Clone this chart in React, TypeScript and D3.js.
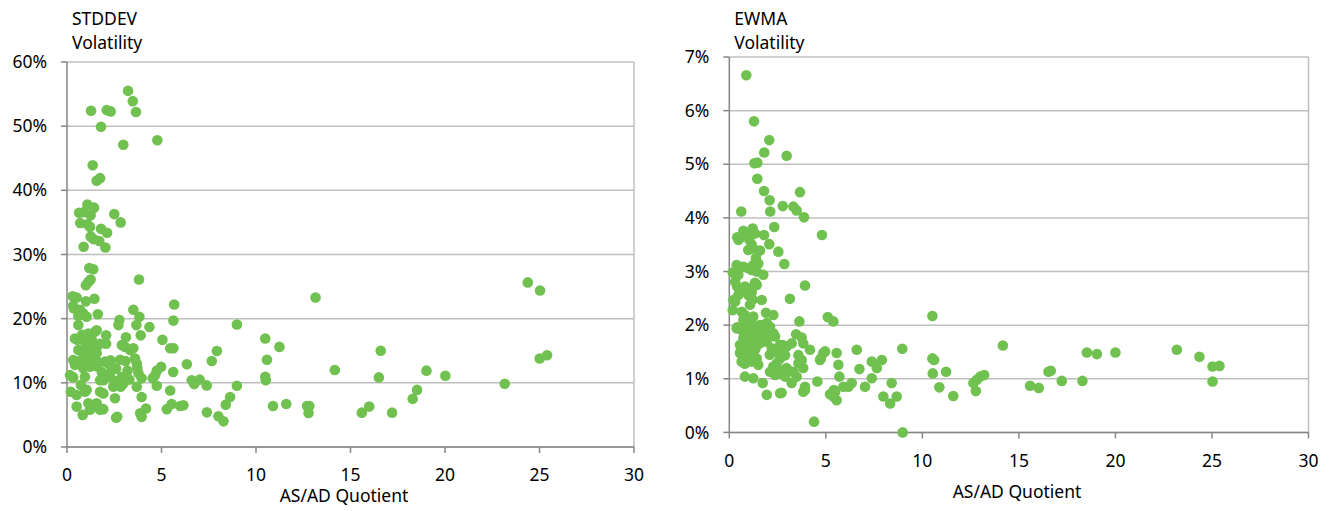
import React from "react";
import * as d3 from "d3";

// ---------- DATA ----------
const xTicks = [0, 5, 10, 15, 20, 25, 30];
const stdYTicks = [0, 10, 20, 30, 40, 50, 60];
const ewmaYTicks = [0, 1, 2, 3, 4, 5, 6, 7];

// STDDEV volatility (%), vs AS/AD quotient
const stdX = [
  3.23, 3.48, 3.65, 1.27, 2.10, 2.31, 1.80, 2.98, 4.78, 1.36, 1.57, 1.75,
  0.64, 0.90, 1.08, 1.43, 1.25, 0.70, 1.08, 1.22, 1.80, 2.12, 2.50, 2.84, 1.25, 1.40, 1.71, 0.88, 2.03,
  1.18, 1.39, 1.25, 1.13, 1.00, 3.81, 0.30, 0.51, 1.00, 1.45, 0.33, 0.37, 0.69, 0.86, 1.04, 0.60, 1.63, 3.51, 3.83, 5.67, 5.63, 8.99, 2.77, 2.72, 3.67, 4.36, 0.60,
  13.15, 10.49, 11.24, 10.58, 10.49, 10.52, 10.90, 11.60, 12.70, 12.82, 12.78,
  7.93, 7.66, 6.34, 6.60, 6.73, 7.02, 7.39, 8.99, 8.63, 8.40, 8.01, 8.28, 7.40,
  5.05, 5.46, 5.63, 5.62, 4.98, 4.75, 4.66, 4.75, 4.53, 5.46, 5.28, 5.54, 5.99, 6.16,
  3.12, 3.51, 3.34, 3.07, 2.90, 3.90, 3.60, 3.69, 3.72, 3.78, 3.95, 3.69, 3.95, 4.18, 3.87, 3.95, 2.60, 2.66, 2.54, 2.81, 2.90, 2.84, 2.98, 2.45, 2.28, 2.10, 1.92, 1.75, 2.01, 2.19, 2.37, 1.84, 1.75, 1.92, 1.57, 1.75, 1.92, 1.13, 1.22, 0.83, 0.51, 0.20, 0.51, 0.95, 0.16, 0.33, 0.73, 0.95, 0.33, 0.42, 0.60, 0.42, 0.55,
  0.95, 1.13, 1.48, 1.57, 0.95, 1.22, 1.40, 1.57, 1.75, 0.86, 1.13, 1.31, 1.48, 1.57, 1.04, 1.31, 1.57, 1.22, 0.69, 2.07, 2.07, 1.04,
  1.00, 1.20, 1.35, 0.80, 1.65, 0.85, 2.30, 2.60, 2.50, 3.30, 3.20, 3.10,
  24.38, 25.03, 16.60, 14.17, 16.50, 19.02, 20.02, 23.16, 25.01, 25.40, 18.52, 18.29, 15.99, 15.60, 17.20,
];
const stdY = [
  55.5, 53.9, 52.2, 52.4, 52.5, 52.3, 49.9, 47.1, 47.8, 43.9, 41.5, 41.9,
  36.5, 36.6, 37.8, 37.3, 36.1, 34.9, 34.7, 34.3, 34.0, 33.4, 36.3, 35.0, 32.8, 32.4, 32.1, 31.2, 31.1,
  27.9, 27.7, 26.1, 25.7, 25.2, 26.1, 23.5, 23.3, 22.7, 23.1, 22.0, 21.6, 21.4, 20.8, 20.3, 20.4, 20.7, 21.4, 20.3, 22.2, 19.7, 19.1, 19.8, 19.0, 19.0, 18.7, 19.0,
  23.3, 16.9, 15.6, 13.6, 10.95, 10.4, 6.4, 6.7, 6.4, 6.4, 5.3,
  14.95, 13.4, 12.9, 10.4, 9.8, 10.5, 9.6, 9.55, 7.8, 6.6, 4.8, 4.0, 5.4,
  16.7, 15.4, 15.4, 11.7, 12.5, 11.9, 11.2, 9.55, 10.7, 8.8, 5.9, 6.7, 6.4, 6.5,
  17.1, 15.4, 15.1, 15.6, 15.9, 17.4, 13.8, 13.0, 12.3, 11.5, 10.7, 9.4, 7.8, 6.0, 5.25, 4.7, 4.55, 4.7, 7.6, 13.6, 10.9, 9.4, 9.9, 9.4, 11.5, 10.95, 10.4, 10.4, 13.3, 13.0, 12.5, 11.7, 8.6, 8.35, 6.8, 5.8, 5.9, 6.8, 5.8, 5.0, 6.3, 8.6, 8.1, 8.6, 11.2, 10.85, 9.65, 10.95, 13.55, 12.8, 15.1, 16.9, 16.7,
  16.7, 17.7, 17.95, 18.2, 15.6, 15.6, 15.1, 15.6, 16.1, 14.6, 14.3, 14.1, 13.8, 14.6, 13.3, 13.0, 12.6, 12.5, 13.4, 17.4, 16.1, 8.9,
  16.2, 17.0, 16.5, 17.5, 13.2, 12.3, 13.5, 12.2, 10.3, 10.5, 11.9, 13.4,
  25.65, 24.4, 15.0, 12.0, 10.85, 11.9, 11.1, 9.85, 13.8, 14.3, 8.9, 7.5, 6.3, 5.35, 5.35,
];

// EWMA volatility (%), vs AS/AD quotient
const ewmaX = [
  0.88, 1.28, 2.07, 1.81, 2.97, 1.30, 1.45, 1.45, 1.80, 2.09, 3.66, 2.12, 2.77, 3.32, 3.49, 3.87, 0.62, 4.80, 2.33,
  0.41, 0.47, 0.73, 0.93, 1.21, 1.33, 1.04, 1.80, 2.07, 2.54, 0.98, 1.24, 1.59, 1.38, 1.16, 0.55,
  1.24, 1.50, 0.38, 0.73, 2.85, 0.98, 1.16, 1.33, 1.42, 0.18, 0.30, 0.47, 1.76,
  0.30, 0.41, 0.55, 0.81, 0.93, 1.07, 1.33, 1.42, 3.92, 0.47, 0.98, 1.16,
  0.21, 0.18, 1.21, 1.07, 1.68, 3.14, 0.30,
  0.64, 0.81, 0.98, 0.73, 1.90, 2.28, 2.11, 3.63, 5.10, 5.39, 10.52, 1.24, 1.94,
  0.41, 0.64, 0.90, 1.24, 1.33, 1.59, 1.85, 2.28, 1.94, 3.46, 3.75, 3.83,
  0.38, 0.73, 1.07, 1.59, 2.37, 1.76, 1.42, 1.07, 0.73, 0.55, 0.90, 1.24, 1.59, 1.94, 2.20, 2.63, 2.97, 3.23, 2.77,
  4.18, 3.58, 3.75, 3.58, 3.83, 3.32, 2.97, 2.89, 2.63, 2.46, 2.28, 2.11, 2.37, 2.63, 2.89, 3.23, 3.49,
  0.55, 0.64, 0.90, 1.24, 1.42, 1.50, 0.81, 1.24, 1.73, 1.94, 2.63, 2.71, 3.92, 3.92, 3.83,
  4.56, 4.70, 4.96, 4.87, 4.74, 5.56, 5.65, 5.70, 5.42, 5.22, 5.56, 5.91, 6.17, 6.34, 6.60, 6.74, 7.03, 7.38, 7.64, 7.90, 7.38, 8.41, 7.98, 8.33, 8.67, 8.96, 8.98, 4.39,
  5.31, 5.48, 5.39,
  0.60, 0.75, 1.00, 1.10, 0.80, 1.15, 1.35, 0.95, 1.15, 0.70, 1.30, 2.50, 2.10, 2.45, 3.05, 2.75,
  10.52, 10.61, 11.23, 10.54, 10.88, 11.60, 12.64, 12.82, 12.99, 13.20, 12.77,
  14.17, 18.52, 19.04, 20.00, 23.18, 24.35, 25.03, 25.39, 25.03, 16.53, 16.65, 17.22, 18.29, 15.58, 16.03,
];
const ewmaY = [
  6.66, 5.80, 5.45, 5.22, 5.16, 5.02, 5.03, 4.73, 4.50, 4.33, 4.48, 4.12, 4.22, 4.21, 4.14, 4.01, 4.12, 3.68, 3.83,
  3.64, 3.59, 3.76, 3.71, 3.80, 3.71, 3.59, 3.68, 3.51, 3.37, 3.40, 3.43, 3.39, 3.25, 3.50, 3.62,
  3.12, 3.15, 3.12, 3.09, 3.14, 3.06, 3.03, 3.08, 3.00, 2.98, 2.97, 2.94, 2.94,
  2.81, 2.72, 2.62, 2.72, 2.69, 2.66, 2.79, 2.75, 2.74, 2.56, 2.56, 2.62,
  2.47, 2.28, 2.48, 2.38, 2.47, 2.49, 2.44,
  2.25, 2.19, 2.13, 2.10, 2.23, 2.19, 1.97, 2.07, 2.15, 2.07, 2.17, 2.16, 2.04,
  1.96, 1.91, 1.96, 2.00, 1.91, 1.85, 1.79, 1.85, 1.88, 1.83, 1.77, 1.66,
  1.94, 2.00, 2.07, 2.00, 1.79, 1.82, 1.85, 1.82, 1.76, 1.63, 1.60, 1.63, 1.66, 1.69, 1.57, 1.63, 1.60, 1.66, 1.63,
  1.54, 1.44, 1.35, 1.29, 1.20, 1.13, 1.20, 1.44, 1.38, 1.29, 1.23, 1.13, 1.07, 1.10, 1.04, 0.92, 1.04,
  1.48, 1.32, 1.38, 1.51, 1.38, 1.26, 1.04, 1.01, 0.92, 0.70, 0.73, 0.74, 0.79, 0.85, 0.76,
  0.95, 1.35, 1.51, 1.48, 1.38, 1.48, 1.26, 1.04, 0.79, 0.71, 0.60, 0.85, 0.85, 0.92, 1.54, 1.18, 0.85, 1.32, 1.20, 1.35, 1.01, 0.92, 0.67, 0.54, 0.67, 1.56, 0.00, 0.20,
  0.73, 0.76, 0.67,
  1.52, 1.42, 1.55, 1.45, 1.28, 1.32, 1.55, 1.70, 1.75, 1.65, 1.70, 1.50, 1.45, 1.20, 1.15, 1.15,
  1.38, 1.35, 1.13, 1.10, 0.84, 0.68, 0.92, 0.98, 1.04, 1.07, 0.77,
  1.62, 1.49, 1.46, 1.49, 1.54, 1.41, 1.23, 1.24, 0.95, 1.13, 1.15, 0.96, 0.96, 0.87, 0.83,
];

// ---------- STYLE ----------
const GREEN = "#70c150";
const GRID = "#bfbfbf";
const AXIS = "#868686";
const FONT = "'Noto Sans', 'Open Sans', sans-serif";
const FS = 17.5;

type ChartProps = {
  xs: number[];
  ys: number[];
  yTicks: number[];
  title: string[];
  left: number;
  right: number;
  top: number;
  bottom: number;
  xLabelY: number;
  axisTitleX: number;
  axisTitleY: number;
};

function Scatter({ xs, ys, yTicks, title, left, right, top, bottom, xLabelY, axisTitleX, axisTitleY }: ChartProps) {
  const x = d3.scaleLinear().domain([0, 30]).range([left, right]);
  const y = d3.scaleLinear().domain([0, yTicks[yTicks.length - 1]]).range([bottom, top]);
  return (
    <g fontFamily={FONT} fill="#000">
      {yTicks.map((t) => (
        <line key={"g" + t} x1={left} x2={right} y1={y(t)} y2={y(t)} stroke={GRID} strokeWidth={1.5} />
      ))}
      <line x1={right} x2={right} y1={top} y2={bottom} stroke={GRID} strokeWidth={1.5} />
      <line x1={left} x2={left} y1={top} y2={bottom} stroke={AXIS} strokeWidth={1.5} />
      <line x1={left} x2={right} y1={bottom} y2={bottom} stroke={AXIS} strokeWidth={1.5} />
      {yTicks.map((t) => (
        <g key={"y" + t}>
          <line x1={left - 6} x2={left} y1={y(t)} y2={y(t)} stroke={AXIS} strokeWidth={1.5} />
          <text x={left - 20} y={y(t)} dy="0.35em" textAnchor="end" fontSize={FS}>
            {t + "%"}
          </text>
        </g>
      ))}
      {xTicks.map((t) => (
        <g key={"x" + t}>
          <line x1={x(t)} x2={x(t)} y1={bottom} y2={bottom + 6} stroke={AXIS} strokeWidth={1.5} />
          <text x={x(t)} y={xLabelY} textAnchor="middle" fontSize={FS}>
            {t}
          </text>
        </g>
      ))}
      {xs.map((v, i) => (
        <circle key={"p" + i} cx={x(v)} cy={y(ys[i])} r={5.3} fill={GREEN} />
      ))}
      <text x={left + 5} y={24.5} fontSize={FS}>{title[0]}</text>
      <text x={left + 5} y={49} fontSize={FS}>{title[1]}</text>
      <text x={axisTitleX} y={axisTitleY} textAnchor="middle" fontSize={FS}>
        AS/AD Quotient
      </text>
    </g>
  );
}

export default function App() {
  return (
    <svg
      width={1329}
      height={511}
      style={{ position: "absolute", left: 0, top: 0, background: "#fff" }}
    >
      <rect width={1329} height={511} fill="#fff" />
      <Scatter
        xs={stdX}
        ys={stdY}
        yTicks={stdYTicks}
        title={["STDDEV", "Volatility"]}
        left={67}
        right={634}
        top={62}
        bottom={447}
        xLabelY={480.5}
        axisTitleX={344}
        axisTitleY={502}
      />
      <Scatter
        xs={ewmaX}
        ys={ewmaY}
        yTicks={ewmaYTicks}
        title={["EWMA", "Volatility"]}
        left={729.3}
        right={1308.5}
        top={57}
        bottom={432.4}
        xLabelY={466.5}
        axisTitleX={1017}
        axisTitleY={497.5}
      />
    </svg>
  );
}
